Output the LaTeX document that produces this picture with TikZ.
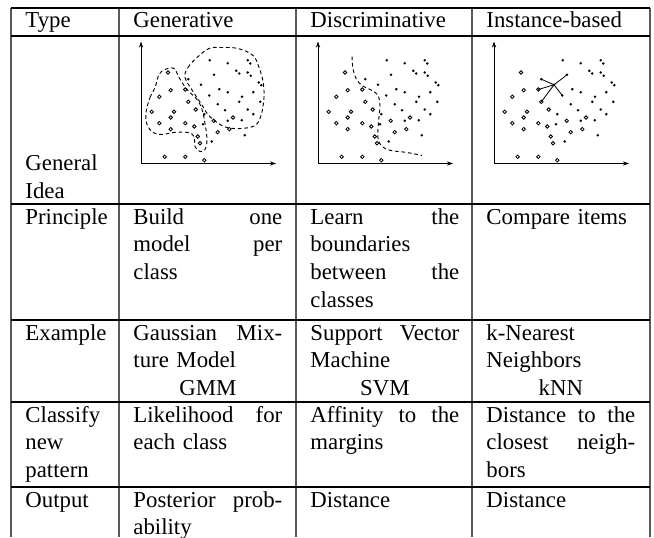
\documentclass[tikz,border=0pt]{standalone}
\usepackage{fontspec}
\setmainfont{Liberation Serif}
\usetikzlibrary{arrows.meta}

\newlength\cellw
\setlength\cellw{64pt}
\newcommand\jl[1]{\makebox[\cellw][s]{\spaceskip=0pt\xspaceskip=0pt #1}}
\newcommand\cl[1]{\makebox[\cellw]{#1}}

% the same data set in every plot
\def\fullpts{68.7/103.3, 86.7/100.3, 106.7/103.3, 109.3/100, 95.3/92.7, 98.3/90, 106.7/91, 109.7/87.7, 73/88.7, 47.3/84.3, 60/78.7, 117.7/81, 120.3/78.3, 78.3/74.3, 86.7/71.3, 112.3/71.3, 68.3/68, 101/66.7, 98.3/61.7, 119.3/61.7, 76.7/59.3, 84/53.3, 63.3/49.3, 106.7/54, 112.3/49.3, 62/39.3, 86.7/42.7, 100.7/43.3, 103.7/28.3, 70.7/22}
\def\openpts{27/91, 29.7/73.3, 44.3/74, 18.3/66.7, 47.3/61.7, 54.7/54, 10.7/51.7, 33/51.7, 29.7/46, 18.3/40.3, 44.3/40.3, 53.3/37, 29.7/34.3, 56.7/27, 59/20.3, 23.7/6.7, 44.3/6.7, 63.3/3.3, 72.7/42.7, 76.7/31.3, 88.3/34.3, 92/46}

\newcommand\scatter{%
  \draw[axis] (0,0) -- (0,122);
  \draw[axis] (0,0) -- (135,0);
  \foreach \a/\b in \fullpts {\fill (\a,\b) circle[radius=0.6pt];}
  \foreach \a/\b in \openpts {\draw[line width=0.35pt] (\a,\b) circle[radius=0.75pt];}
}

\begin{document}
\begin{tikzpicture}[x=0.43pt,y=-0.43pt,
  hrule/.style={line width=0.45pt},
  vrule/.style={line width=0.6pt,black!65},
  cell/.style={anchor=north west,inner sep=0pt,align=left,text width=#1},
  cell/.default=\cellw,
  axis/.style={line width=0.4pt,-{Stealth[length=2.6pt,width=1.8pt]}},
  bound/.style={dash pattern=on 1.6pt off 1.2pt,line width=0.4pt},
  every node/.style={font=\fontsize{9.8}{12}\selectfont}]
\useasboundingbox (0,0) rectangle (654,537);

% grid of the table
\foreach \x in {11,119,296,472,650}
  \draw[vrule] (\x,8) -- (\x,537);
\foreach \y in {8,36,204,320,402,487}
  \draw[hrule] (11,\y) -- (650,\y);

% general idea plots
\begin{scope}[shift={(141,163.5)},yscale=-1]
  \scatter
  \draw[bound] plot[smooth cycle,tension=0.6] coordinates {(5,51) (9,66) (14,76) (18,89) (24,94) (33,95) (38,86) (46,74) (56,64) (61,54) (64,40) (66,24) (64,14) (59,12) (54,17) (53,27) (47,31) (33,31) (21,29) (12,31) (6,39)};
  \draw[bound] plot[smooth cycle,tension=0.6] coordinates {(44,86) (47,96) (56,106) (68,115) (80,116) (97,115) (112,108) (118,96) (122,82) (123,66) (120,48) (114,38) (100,35) (86,36) (76,41) (67,49) (60,60) (52,72)};
\end{scope}
\begin{scope}[shift={(318,163.5)},yscale=-1]
  \scatter
  \draw[bound] plot[smooth,tension=0.6] coordinates {(34,107) (35,95) (38,85) (44,78) (54,73) (60,68) (62,58) (61,47) (60,35) (60,25) (64,17) (73,13) (89,11) (104,8)};
\end{scope}
\begin{scope}[shift={(494,163.5)},yscale=-1]
  \scatter
  \coordinate (q) at (60,78.7);
  \coordinate (k1) at (73,88.7);
  \coordinate (k2) at (47.3,84.3);
  \coordinate (k3) at (68.3,68);
  \coordinate (k4) at (44.3,74);
  \coordinate (k5) at (47.3,61.7);
  \foreach \k in {1,...,5}
    \draw[line width=0.35pt] (q) -- (k\k);
\end{scope}

% header
\node[cell=40pt] (type) at (25,8) {\strut Type};
\node[cell] (gen) at (133,8) {\strut Generative};
\node[cell] (dis) at (310,8) {\strut Discriminative};
\node[cell] (inst) at (486,8) {\strut Instance-based};

% rows
\node[cell=40pt] (idea) at (25,150.5) {\strut General\\Idea};

\node[cell=40pt] (prin) at (25,204) {\strut Principle};
\node[cell] (prin-gen) at (133,204) {\strut\jl{Build one}\\\jl{model per}\\class};
\node[cell] (prin-dis) at (310,204) {\strut\jl{Learn the}\\boundaries\\\jl{between the}\\classes};
\node[cell] (prin-inst) at (486,204) {\strut Compare items};

\node[cell=40pt] (ex) at (25,320) {\strut Example};
\node[cell] (ex-gen) at (133,320) {\strut\jl{Gaussian Mix-}\\ture Model\\\cl{GMM}};
\node[cell] (ex-dis) at (310,320) {\strut\jl{Support Vector}\\Machine\\\cl{SVM}};
\node[cell] (ex-inst) at (486,320) {\strut k-Nearest\\Neighbors\\\cl{kNN}};

\node[cell=40pt] (cls) at (25,402) {\strut Classify\\new\\pattern};
\node[cell] (cls-gen) at (133,402) {\strut\jl{Likelihood for}\\each class};
\node[cell] (cls-dis) at (310,402) {\strut\jl{Affinity to the}\\margins};
\node[cell] (cls-inst) at (486,402) {\strut\jl{Distance to the}\\\jl{closest neigh-}\\bors};

\node[cell=40pt] (out) at (25,487) {\strut Output};
\node[cell] (out-gen) at (133,487) {\strut\jl{Posterior prob-}\\ability};
\node[cell] (out-dis) at (310,487) {\strut Distance};
\node[cell] (out-inst) at (486,487) {\strut Distance};
\end{tikzpicture}
\end{document}
